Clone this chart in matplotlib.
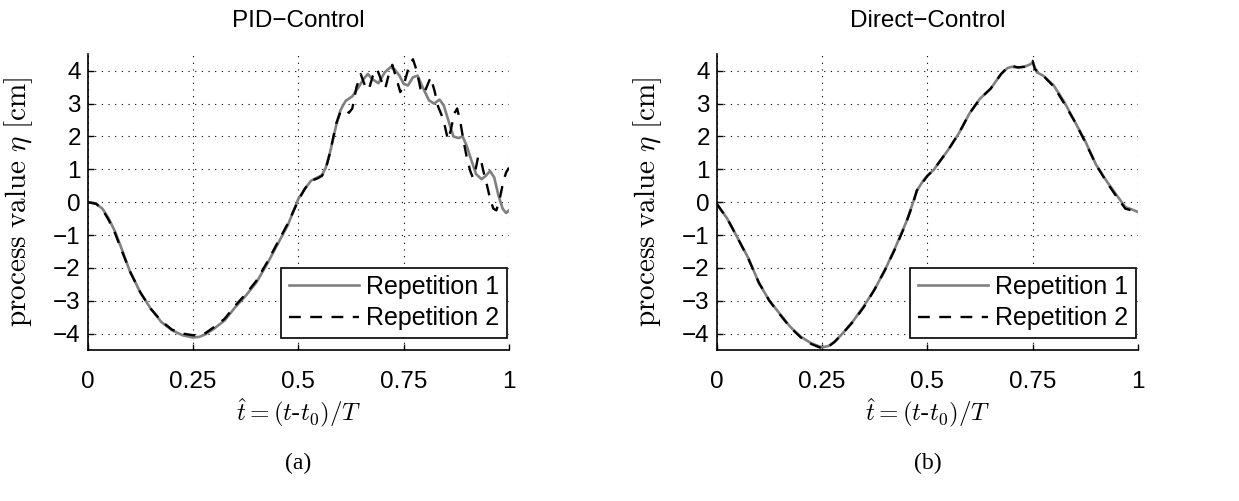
import matplotlib
matplotlib.use("Agg")
import matplotlib.pyplot as plt

# ---------------- data ----------------
pid_t1 = [0, 0.02, 0.035, 0.05, 0.065, 0.08, 0.1, 0.125, 0.15, 0.175, 0.2, 0.225, 0.25, 0.265, 0.28,
          0.3, 0.325, 0.35, 0.375, 0.4, 0.425, 0.45, 0.475, 0.5, 0.515, 0.53, 0.545, 0.556, 0.565,
          0.575, 0.59, 0.6, 0.612, 0.628, 0.643, 0.655, 0.665, 0.675, 0.69, 0.705, 0.718, 0.728,
          0.74, 0.75, 0.76, 0.772, 0.783, 0.795, 0.81, 0.822, 0.835, 0.845, 0.857, 0.868, 0.88,
          0.89, 0.9, 0.91, 0.922, 0.935, 0.945, 0.955, 0.965, 0.975, 0.985, 0.993, 1.0]
pid_v1 = [0, -0.05, -0.2, -0.5, -0.9, -1.4, -2.1, -2.75, -3.25, -3.65, -3.9, -4.05, -4.12, -4.1, -4.02,
          -3.85, -3.6, -3.2, -2.85, -2.45, -1.9, -1.3, -0.7, 0.1, 0.4, 0.65, 0.75, 0.82, 1.05,
          1.5, 2.35, 2.8, 3.08, 3.22, 3.5, 3.75, 3.9, 3.75, 3.62, 3.95, 4.1, 4.05,
          3.85, 3.6, 3.55, 3.8, 3.85, 3.5, 3.1, 3.0, 3.12, 2.95, 2.45, 2.0, 1.95,
          2.0, 1.7, 1.3, 0.85, 0.7, 0.8, 0.95, 0.75, 0.2, -0.2, -0.33, -0.25]

pid_t2 = [0, 0.02, 0.035, 0.05, 0.065, 0.08, 0.1, 0.125, 0.15, 0.175, 0.2, 0.225, 0.25, 0.265, 0.28,
          0.3, 0.325, 0.35, 0.375, 0.4, 0.425, 0.45, 0.475, 0.5, 0.515, 0.53, 0.545, 0.556, 0.565,
          0.575, 0.59, 0.6, 0.61, 0.62, 0.628, 0.638, 0.648, 0.658, 0.667, 0.677, 0.687, 0.697,
          0.706, 0.715, 0.723, 0.733, 0.742, 0.752, 0.763, 0.772, 0.781, 0.79, 0.798, 0.806,
          0.814, 0.823, 0.832, 0.84, 0.848, 0.855, 0.862, 0.87, 0.877, 0.885, 0.893, 0.9, 0.908,
          0.914, 0.92, 0.927, 0.933, 0.94, 0.948, 0.956, 0.963, 0.97, 0.978, 0.986, 0.993, 1.0]
pid_v2 = [0, -0.05, -0.22, -0.55, -0.95, -1.45, -2.1, -2.75, -3.25, -3.62, -3.88, -4.0, -4.05, -4.05, -3.98,
          -3.8, -3.55, -3.15, -2.8, -2.4, -1.85, -1.25, -0.65, 0.05, 0.4, 0.65, 0.72, 0.8, 1.0,
          1.5, 2.4, 2.75, 2.82, 2.72, 2.85, 3.5, 3.9, 3.55, 3.42, 3.85, 4.05, 3.7,
          3.45, 3.9, 4.18, 3.75, 3.35, 3.65, 4.15, 4.35, 4.0, 3.45, 3.3, 3.55,
          3.8, 3.4, 2.9, 2.65, 2.3, 1.9, 2.2, 2.7, 2.85, 2.4, 1.8, 1.35, 0.95,
          0.75, 0.95, 1.4, 1.3, 0.9, 0.5, 0.05, -0.2, -0.25, 0.1, 0.6, 0.9, 1.05]

dir_t1 = [0, 0.025, 0.05, 0.075, 0.1, 0.125, 0.15, 0.175, 0.2, 0.225, 0.25, 0.265, 0.28, 0.3, 0.325,
          0.35, 0.375, 0.4, 0.425, 0.45, 0.465, 0.475, 0.49, 0.5, 0.515, 0.53, 0.55, 0.575, 0.6,
          0.625, 0.65, 0.675, 0.69, 0.7, 0.715, 0.73, 0.745, 0.75, 0.76, 0.775, 0.8, 0.825, 0.85,
          0.875, 0.9, 0.925, 0.95, 0.97, 0.985, 1.0]
dir_v1 = [-0.05, -0.5, -1.1, -1.7, -2.45, -3.0, -3.4, -3.8, -4.1, -4.3, -4.42, -4.38, -4.25, -3.98, -3.6,
          -3.15, -2.65, -2.05, -1.35, -0.6, -0.05, 0.35, 0.65, 0.8, 0.98, 1.25, 1.6, 2.1, 2.7,
          3.15, 3.45, 3.9, 4.08, 4.12, 4.1, 4.12, 4.2, 4.25, 3.95, 3.85, 3.55, 3.05, 2.45,
          1.85, 1.15, 0.65, 0.2, -0.15, -0.22, -0.3]

dir_t2 = [0, 0.025, 0.05, 0.075, 0.1, 0.125, 0.15, 0.175, 0.2, 0.225, 0.25, 0.265, 0.28, 0.3, 0.325,
          0.35, 0.375, 0.4, 0.425, 0.45, 0.465, 0.475, 0.49, 0.5, 0.515, 0.53, 0.55, 0.575, 0.6,
          0.625, 0.65, 0.675, 0.69, 0.7, 0.715, 0.73, 0.745, 0.75, 0.755, 0.775, 0.8, 0.825, 0.85,
          0.875, 0.9, 0.925, 0.95, 0.97, 0.985, 1.0]
dir_v2 = [-0.05, -0.5, -1.1, -1.72, -2.45, -3.0, -3.42, -3.82, -4.12, -4.32, -4.45, -4.4, -4.25, -3.98, -3.62,
          -3.18, -2.65, -2.05, -1.38, -0.62, -0.08, 0.35, 0.62, 0.8, 0.98, 1.25, 1.6, 2.1, 2.7,
          3.15, 3.45, 3.9, 4.1, 4.15, 4.1, 4.12, 4.22, 4.3, 4.05, 3.85, 3.52, 3.0, 2.45,
          1.82, 1.15, 0.62, 0.15, -0.2, -0.25, -0.3]

xticks = [0, 0.25, 0.5, 0.75, 1]
xticklabels = ["0", "0.25", "0.5", "0.75", "1"]
yticks = [-4, -3, -2, -1, 0, 1, 2, 3, 4]
titles = ["PID\u2212Control", "Direct\u2212Control"]
sublabels = ["(a)", "(b)"]
legend_labels = ["Repetition 1", "Repetition 2"]

# ---------------- style ----------------
plt.rcParams["mathtext.fontset"] = "cm"
plt.rcParams["font.family"] = ["Liberation Sans", "DejaVu Sans"]
plt.rcParams["axes.unicode_minus"] = True

W, H = 1239, 501
fig = plt.figure(figsize=(W / 100, H / 100), dpi=100)

left_px = [87.7, 716.7]
right_px = [509, 1138]
top_px, bot_px = 54.3, 350

series = [((pid_t1, pid_v1), (pid_t2, pid_v2)), ((dir_t1, dir_v1), (dir_t2, dir_v2))]

for i in range(2):
    aw = right_px[i] - left_px[i]
    ah = bot_px - top_px
    ax = fig.add_axes([left_px[i] / W, 1 - bot_px / H, aw / W, ah / H])
    (t1, v1), (t2, v2) = series[i]
    ax.plot(t1, v1, color="#808080", lw=1.9, solid_joinstyle="round", label=legend_labels[0])
    ax.plot(t2, v2, color="black", lw=1.7, ls=(0, (5, 4)), label=legend_labels[1])

    ax.set_xlim(0, 1)
    ax.set_ylim(-4.5, 4.5)
    ax.set_xticks(xticks)
    ax.set_xticklabels(xticklabels)
    ax.set_yticks(yticks)
    ax.tick_params(direction="in", length=4.5, width=1.0, labelsize=17.5, top=False, right=False)
    ax.tick_params(axis="x", pad=15)
    ax.tick_params(axis="y", pad=5)
    for s in ["top", "right"]:
        ax.spines[s].set_visible(False)
    for s in ["left", "bottom"]:
        ax.spines[s].set_linewidth(1.2)
    ax.grid(True, color="black", lw=0.8, ls=(0, (1, 5)))
    ax.set_axisbelow(True)

    ax.set_title(titles[i], fontsize=17.5, pad=20)
    ax.set_ylabel(r"$\mathrm{process\ value}\ \eta\ [\mathrm{cm}]$", fontsize=21)
    ax.yaxis.set_label_coords((35 - 87.7) / aw, 0.5)
    ax.set_xlabel(r"$\hat{t} = (t\text{-}t_0)/T$", fontsize=18)
    ax.xaxis.set_label_coords(0.5, -0.16)

    leg = ax.legend(loc="lower right", bbox_to_anchor=((507 - 87.7) / aw, (350 - 338) / ah),
                    fontsize=18, frameon=True, fancybox=False,
                    framealpha=1, edgecolor="black", handlelength=2.8,
                    borderpad=0.3, labelspacing=0.3, handletextpad=0.3,
                    borderaxespad=0.0)
    leg.get_frame().set_linewidth(1.2)

    fig.text((left_px[i] + right_px[i]) / 2 / W, 1 - 463 / H,
             sublabels[i], ha="center", va="center", fontsize=17,
             family=["Liberation Serif", "DejaVu Serif"])

fig.savefig("out.png", dpi=100)
